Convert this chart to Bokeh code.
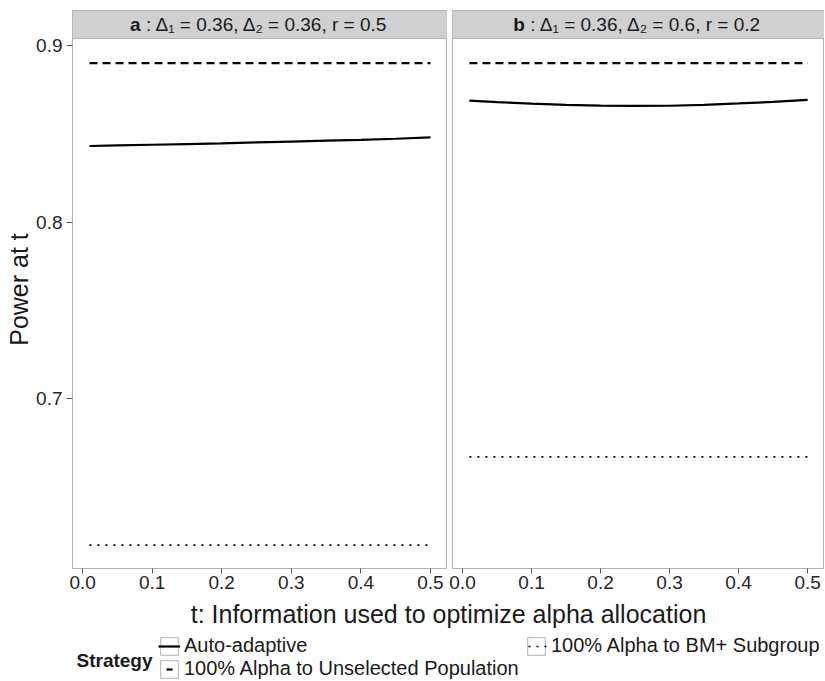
from bokeh.plotting import figure
from bokeh.models import Range1d, FixedTicker, PrintfTickFormatter, Legend, LegendItem, Label
from bokeh.layouts import row, column
from bokeh.embed import file_html
from bokeh.resources import INLINE
from bokeh.core.properties import value

# ---------------- data ----------------
t = [0.01, 0.05, 0.10, 0.15, 0.20, 0.25, 0.30, 0.35, 0.40, 0.45, 0.50]

auto_a = [0.8431, 0.8434, 0.8438, 0.8442, 0.8446, 0.8451, 0.8456, 0.8461, 0.8466, 0.8472, 0.8480]
unsel_a = [0.890, 0.890, 0.890, 0.890, 0.890, 0.890, 0.890, 0.890, 0.890, 0.890, 0.890]
bm_a = [0.617, 0.617, 0.617, 0.617, 0.617, 0.617, 0.617, 0.617, 0.617, 0.617, 0.617]

auto_b = [0.8688, 0.8680, 0.8671, 0.8664, 0.8660, 0.8658, 0.8659, 0.8664, 0.8672, 0.8681, 0.8692]
unsel_b = [0.890, 0.890, 0.890, 0.890, 0.890, 0.890, 0.890, 0.890, 0.890, 0.890, 0.890]
bm_b = [0.667, 0.667, 0.667, 0.667, 0.667, 0.667, 0.667, 0.667, 0.667, 0.667, 0.667]

x_ticks = [0.0, 0.1, 0.2, 0.3, 0.4, 0.5]
y_ticks = [0.7, 0.8, 0.9]

strip_a_bold, strip_a_rest = "a", "\u00a0: Δ₁ = 0.36, Δ₂ = 0.36, r = 0.5"
strip_b_bold, strip_b_rest = "b", "\u00a0: Δ₁ = 0.36, Δ₂ = 0.6, r = 0.2"

series_labels = ["Auto-adaptive", "100% Alpha to Unselected Population", "100% Alpha to BM+ Subgroup"]
legend_title = "Strategy"
x_title = "t: Information used to optimize alpha allocation"
y_title = "Power at t"

# ---------------- style ----------------
FONT = "Liberation Sans"
BORDER = "#b3b3b3"
STRIP_FILL = "#d0d0d0"
TXT = "#1a1a1a"
STYLES = [dict(line_width=2.2, line_dash="solid"),
          dict(line_width=2.2, line_dash="8 5"),
          dict(line_width=1.7, line_dash="2 6")]
# legend key variants (so that each key shows the pattern centred in its box)
KEY_STYLES = [dict(line_width=2.2, line_dash="solid"),
              dict(line_width=2.2, line_dash="6 16", line_dash_offset=14),
              dict(line_width=1.7, line_dash="2 6", line_dash_offset=-3)]

# approximate Arial advance widths (em) for centring the strip texts
W_REG = {" ": 0.278, "\u00a0": 0.278, ":": 0.278, "Δ": 0.668, "₁": 0.4, "₂": 0.4,
         "=": 0.584, ".": 0.278, ",": 0.278, "r": 0.333}
W_BOLD = {"a": 0.556, "b": 0.611}


def twidth(s, size, bold=False):
    tab = W_BOLD if bold else W_REG
    return sum(tab.get(c, 0.556) for c in s) * size


# ---------------- geometry ----------------
LEFT, FW_A, GAP, FW_B = 72, 375, 5, 372
TOP, STRIP_PX, DATA_PX, AX_H = 10, 28, 530, 29
STRIP_FS = 19

x_lo, x_hi = -0.0145, 0.5245
y_lo, y_hi = 0.6037, 0.9040
per_px = (y_hi - y_lo) / DATA_PX
y_top = y_hi + STRIP_PX * per_px
y_range = Range1d(y_lo, y_top)


def make_panel(series, bold, rest, width, left, show_y):
    p = figure(width=width, height=TOP + STRIP_PX + DATA_PX + AX_H,
               x_range=Range1d(x_lo, x_hi), y_range=y_range,
               output_backend="svg", toolbar_location=None, tools="",
               min_border_left=left, min_border_right=0,
               min_border_top=TOP, min_border_bottom=AX_H,
               y_axis_location="left" if show_y else None)
    for ys, st in zip(series, STYLES):
        p.line(t, ys, line_color="black", **st)
    # facet strip
    p.quad(left=[x_lo], right=[x_hi], bottom=[y_hi], top=[y_top],
           fill_color=STRIP_FILL, line_color=BORDER, line_width=1)
    wb = twidth(bold, STRIP_FS, True)
    wr = twidth(rest, STRIP_FS)
    off = -(wb + wr) / 2 + wb
    xm, ym = (x_lo + x_hi) / 2, (y_hi + y_top) / 2
    common = dict(text_baseline="middle", x_offset=off, text_font=value(FONT),
                  text_font_size=f"{STRIP_FS}px", text_color=TXT)
    p.text(x=[xm], y=[ym], text=[bold], text_align="right", text_font_style="bold", **common)
    p.text(x=[xm], y=[ym], text=[rest], text_align="left", **common)

    p.grid.visible = False
    p.outline_line_color = BORDER
    p.outline_line_width = 1
    p.background_fill_color = "white"
    ax = p.xaxis[0]
    ax.ticker = FixedTicker(ticks=x_ticks)
    ax.formatter = PrintfTickFormatter(format="%.1f")
    ax.axis_line_color = None
    ax.major_tick_line_color = "#555555"
    ax.major_tick_out = 5
    ax.major_tick_in = 0
    ax.minor_tick_line_color = None
    ax.major_label_text_font = FONT
    ax.major_label_text_font_size = "19px"
    ax.major_label_text_color = "#262626"
    ax.major_label_standoff = 2
    if show_y:
        ay = p.yaxis[0]
        ay.ticker = FixedTicker(ticks=y_ticks)
        ay.formatter = PrintfTickFormatter(format="%.1f")
        ay.axis_line_color = None
        ay.major_tick_line_color = "#555555"
        ay.major_tick_out = 6
        ay.major_tick_in = 0
        ay.minor_tick_line_color = None
        ay.major_label_text_font = FONT
        ay.major_label_text_font_size = "19px"
        ay.major_label_text_color = "#262626"
        ay.major_label_standoff = 4
        ay.axis_label = y_title
        ay.axis_label_text_font = FONT
        ay.axis_label_text_font_size = "25px"
        ay.axis_label_text_font_style = "normal"
        ay.axis_label_text_color = TXT
        ay.axis_label_standoff = 0
    return p


pa = make_panel([auto_a, unsel_a, bm_a], strip_a_bold, strip_a_rest, LEFT + FW_A, LEFT, True)
pb = make_panel([auto_b, unsel_b, bm_b], strip_b_bold, strip_b_rest, GAP + FW_B, GAP, False)

# bottom: x-axis title (centred over the panels) + legend
panel_h = TOP + STRIP_PX + DATA_PX + AX_H
total_w = LEFT + FW_A + GAP + FW_B
bottom = figure(width=total_w, height=680 - panel_h,
                x_range=Range1d(0, 1), y_range=Range1d(0, 1),
                output_backend="svg", toolbar_location=None, tools="",
                min_border_left=LEFT, min_border_right=0, min_border_top=0, min_border_bottom=0,
                x_axis_location=None, y_axis_location=None, title=x_title)
bottom.outline_line_color = None
bottom.grid.visible = False
bottom.title.align = "center"
bottom.title.text_font = FONT
bottom.title.text_font_size = "25px"
bottom.title.text_font_style = "normal"
bottom.title.text_color = TXT
bottom.title.standoff = 0
bottom.title.offset = 0

# legend keys: renderers parked outside the visible range of this figure
items = []
for lab, st in zip(series_labels, KEY_STYLES):
    q = bottom.quad(left=[-3], right=[-2], top=[-2], bottom=[-3], fill_color="white",
                    line_color=BORDER, line_width=1)
    ln = bottom.line(x=[-3, -2], y=[-3, -3], line_color="black", **st)
    items.append(LegendItem(label=lab, renderers=[q, ln]))

leg = Legend(items=items, ncols=2, location=(86, 0))
leg.label_text_font = FONT
leg.label_text_font_size = "20px"
leg.label_text_color = TXT
leg.glyph_width = 22
leg.glyph_height = 22
leg.label_standoff = 4
leg.label_width = 341
leg.label_height = 20
leg.spacing = 0
leg.padding = 0
leg.margin = 0
leg.border_line_color = None
leg.background_fill_alpha = 0
bottom.add_layout(leg)

bottom.add_layout(Label(x=4, y=20, x_units="screen", y_units="screen", text=legend_title,
                        text_font=FONT, text_font_size="19px", text_font_style="bold",
                        text_baseline="middle", text_color=TXT))

layout = column(row(pa, pb), bottom)

open("out.html", "w").write(file_html(layout, INLINE))
